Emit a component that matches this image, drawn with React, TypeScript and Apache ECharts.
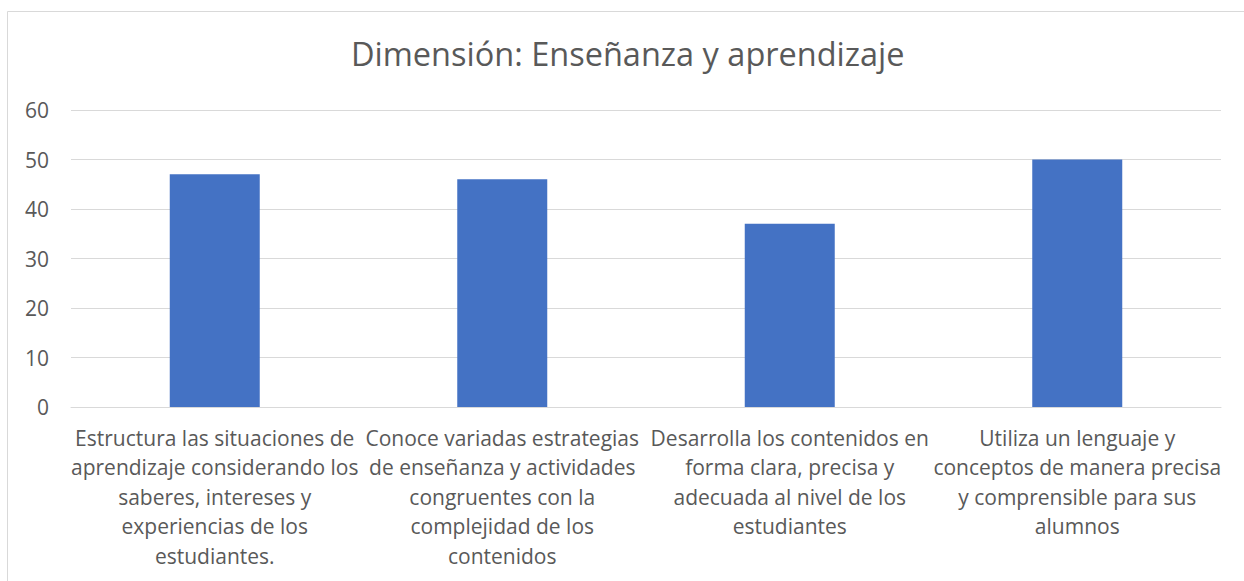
import React, { useEffect, useRef } from "react";
import * as echarts from "echarts";

const title = "Dimensión: Enseñanza y aprendizaje";
const categories = [
  "Estructura las situaciones de\naprendizaje considerando los\nsaberes, intereses y\nexperiencias de los\nestudiantes.",
  "Conoce variadas estrategias\nde enseñanza y actividades\ncongruentes con la\ncomplejidad de los\ncontenidos",
  "Desarrolla los contenidos en\nforma clara, precisa y\nadecuada al nivel de los\nestudiantes",
  "Utiliza un lenguaje y\nconceptos de manera precisa\ny comprensible para sus\nalumnos",
];
const values = [47, 46, 37, 50];
const yMin = 0;
const yMax = 60;
const yInterval = 10;

const FONT = "'Open Sans', sans-serif";
const TEXT = "#595959";

export default function App() {
  const ref = useRef<HTMLDivElement>(null);
  useEffect(() => {
    if (!ref.current) return;
    const chart = echarts.init(ref.current, undefined, { renderer: "svg" });
    chart.setOption({
      animation: false,
      backgroundColor: "#ffffff",
      title: {
        text: title,
        left: 346,
        top: 32,
        textStyle: { fontFamily: FONT, fontSize: 32.5, fontWeight: "normal", color: TEXT },
      },
      graphic: [
        {
          type: "rect",
          shape: { x: 7.5, y: 11.5, width: 1250, height: 600 },
          style: { fill: "none", stroke: "#d9d9d9", lineWidth: 1 },
          silent: true,
        },
      ],
      grid: { left: 71, right: 23, top: 110, bottom: 174 },
      xAxis: {
        type: "category",
        data: categories,
        axisLine: { show: true, lineStyle: { color: "#d9d9d9", width: 1 } },
        axisTick: { show: false },
        axisLabel: {
          interval: 0,
          margin: 16,
          fontFamily: FONT,
          fontSize: 21,
          lineHeight: 29.5,
          color: TEXT,
          align: "center",
        },
      },
      yAxis: {
        type: "value",
        min: yMin,
        max: yMax,
        interval: yInterval,
        axisLine: { show: false },
        axisTick: { show: false },
        splitLine: { lineStyle: { color: "#d9d9d9", width: 1 } },
        axisLabel: { margin: 22, fontFamily: FONT, fontSize: 21, color: TEXT },
      },
      series: [
        {
          type: "bar",
          data: values,
          barWidth: 90,
          itemStyle: { color: "#4472C4" },
        },
      ],
    });
    return () => chart.dispose();
  }, []);
  return (
    <div
      ref={ref}
      style={{ position: "absolute", left: 0, top: 0, width: 1244, height: 581 }}
    />
  );
}
